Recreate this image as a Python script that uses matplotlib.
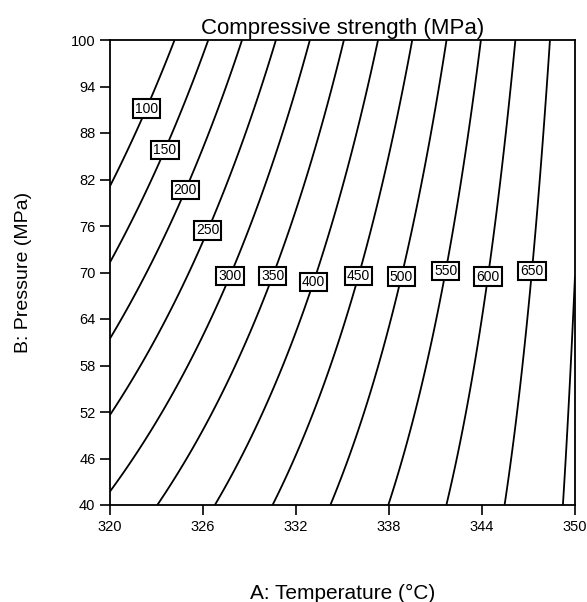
import numpy as np
import matplotlib.pyplot as plt

plt.rcParams['font.family'] = ['Liberation Sans', 'DejaVu Sans']

# contour levels of compressive strength (MPa)
levels = [100, 150, 200, 250, 300, 350, 400, 450, 500, 550, 600, 650, 700]

# points read off the picture where each contour crosses the frame or its label
# top edge, P = 100
top_levels = [100, 150, 200, 250, 300, 350, 400, 450, 500, 550, 600, 650]
top_T = [324.08, 326.34, 328.6, 330.75, 332.9, 335.05, 337.3, 339.57, 341.72, 343.87, 346.13, 348.39]
# left edge, T = 320
left_levels = [100, 150, 200, 250, 300]
left_P = [80.9, 71.1, 61.3, 51.7, 41.9]
# bottom edge, P = 40
bot_levels = [350, 400, 450, 500, 550, 600, 650, 700]
bot_T = [323.05, 326.77, 330.54, 334.24, 337.96, 341.72, 345.44, 349.18]
# right edge, T = 350
right_levels = [700]
right_P = [67.5]
# label centres
lab_levels = [100, 150, 200, 250, 300, 350, 400, 450, 500, 550, 600, 650]
lab_T = [322.32, 323.55, 324.84, 326.24, 327.69, 330.47, 333.12, 336.0, 338.82, 341.68, 344.40, 347.2]
lab_P = [91.18, 85.81, 80.64, 75.48, 69.55, 69.55, 68.74, 69.55, 69.47, 70.24, 69.47, 70.24]

x_ticks = [320, 326, 332, 338, 344, 350]
y_ticks = [40, 46, 52, 58, 64, 70, 76, 82, 88, 94, 100]

# gather the read points and fit a quadratic response surface to them
pts_T = np.array(top_T + [320] * len(left_P) + bot_T + [350] * len(right_P) + lab_T)
pts_P = np.array([100] * len(top_T) + left_P + [40] * len(bot_T) + right_P + lab_P)
pts_Z = np.array(top_levels + left_levels + bot_levels + right_levels + lab_levels, float)


def design(T, P):
    a = (T - 335) / 15
    b = (P - 70) / 30
    return np.stack([np.ones_like(a), a, b, a * b, a * a, b * b, a * a * b, a * b * b], axis=-1)


coef, *_ = np.linalg.lstsq(design(pts_T, pts_P), pts_Z, rcond=None)

T = np.linspace(320, 350, 301)
P = np.linspace(40, 100, 301)
TT, PP = np.meshgrid(T, P)
ZZ = design(TT, PP) @ coef

fig = plt.figure(figsize=(5.87, 6.02), dpi=100)
ax = fig.add_axes([110 / 587, 1 - 505 / 602, 465 / 587, 465 / 602])

cs = ax.contour(TT, PP, ZZ, levels=levels, colors='black', linewidths=1.3)
labs = ax.clabel(cs, levels=lab_levels, inline=False, fmt='%d', fontsize=10,
                 manual=list(zip(lab_T, lab_P)))
for t in labs:
    t.set_rotation(0)
    t.set_bbox(dict(boxstyle='square,pad=0.15', facecolor='white', edgecolor='black', linewidth=1.5))

ax.set_xlim(320, 350)
ax.set_ylim(40, 100)
ax.set_xticks(x_ticks)
ax.set_yticks(y_ticks)
ax.tick_params(direction='out', length=7, width=1.2, labelsize=10.5, colors='black')
for s in ax.spines.values():
    s.set_linewidth(1.3)

ax.set_title('Compressive strength (MPa)', fontsize=16, pad=4)
ax.set_xlabel('A: Temperature (°C)', fontsize=15, labelpad=36)
ax.set_ylabel('B: Pressure (MPa)', fontsize=14, labelpad=28)

fig.savefig('out.png', dpi=100)
